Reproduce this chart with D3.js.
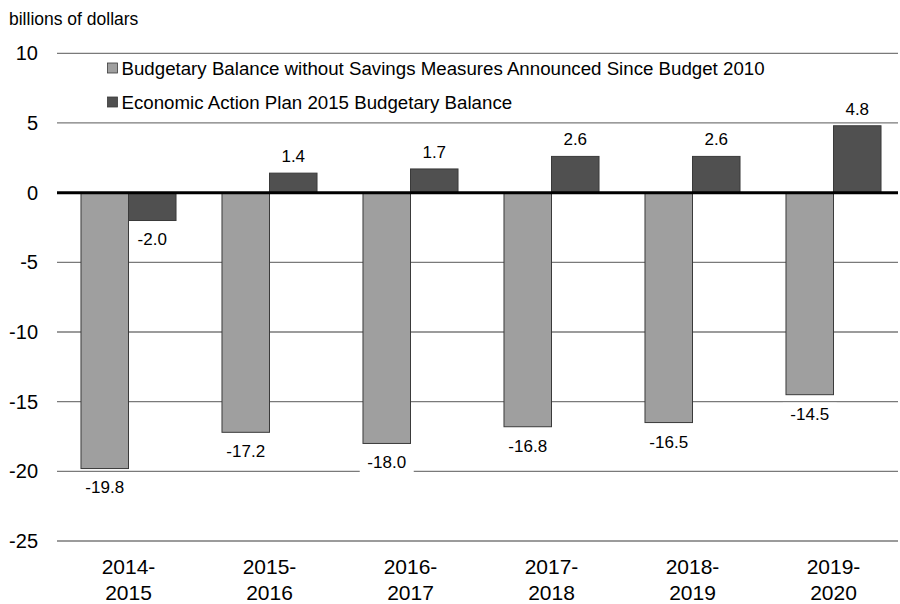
<!DOCTYPE html>
<html>
<head>
<meta charset="utf-8">
<script src="https://cdn.jsdelivr.net/npm/d3@7"></script>
<style>
  html, body { margin: 0; padding: 0; background: #fff; }
  svg { display: block; font-family: "Liberation Sans", Arial, sans-serif; }
</style>
</head>
<body>
<svg id="chart" width="900" height="604"></svg>
<script>
// Fiscal years shown along the x axis (two-line labels)
const years = ["2014-2015", "2015-2016", "2016-2017", "2017-2018", "2018-2019", "2019-2020"];
// Series names as they appear in the legend
const seriesNames = [
  "Budgetary Balance without Savings Measures Announced Since Budget 2010",
  "Economic Action Plan 2015 Budgetary Balance"
];
// Budgetary balance in billions of dollars
const withoutSavings = [-19.8, -17.2, -18.0, -16.8, -16.5, -14.5];
const eap2015 = [-2.0, 1.4, 1.7, 2.6, 2.6, 4.8];
// Y-axis ticks
const yTicks = [10, 5, 0, -5, -10, -15, -20, -25];

const seriesValues = [withoutSavings, eap2015];
const fills = ["#9f9f9f", "#505050"];

const svg = d3.select("#chart");

const y = d3.scaleLinear().domain([-25, 10]).range([541, 53.3]);
const x0 = d3.scaleBand().domain(years).range([58, 904]).paddingInner(0.326).paddingOuter(0.163);
const x1 = d3.scaleBand().domain([0, 1]).range([0, x0.bandwidth()]);

const gridLeft = 57, gridRight = 898;

// Unit label
svg.append("text")
  .attr("x", 9).attr("y", 25)
  .attr("font-size", 17.5)
  .attr("fill", "#000")
  .text("billions of dollars");

// Horizontal gridlines
svg.append("g").selectAll("line")
  .data(yTicks.filter(d => d !== 0))
  .join("line")
  .attr("x1", gridLeft).attr("x2", gridRight)
  .attr("y1", d => y(d)).attr("y2", d => y(d))
  .attr("stroke", "#7a7a7a").attr("stroke-width", 1.3);

// Y tick labels
svg.append("g").selectAll("text")
  .data(yTicks)
  .join("text")
  .attr("x", 38).attr("y", d => y(d))
  .attr("dy", "0.35em")
  .attr("text-anchor", "end")
  .attr("font-size", 20)
  .text(d => d);

// Value label positions
const labelData = [];
years.forEach((yr, i) => {
  seriesValues.forEach((vals, s) => {
    const v = vals[i];
    labelData.push({
      v,
      cx: x0(yr) + x1(s) + x1.bandwidth() / 2,
      cy: v < 0 ? y(v) + 19 : y(v) - 17
    });
  });
});

// White backing behind labels so gridlines break around them
svg.append("g").selectAll("rect")
  .data(labelData)
  .join("rect")
  .attr("x", d => d.cx - 27).attr("y", d => d.cy - 11)
  .attr("width", 54).attr("height", 22)
  .attr("fill", "#fff");

// Bars
const groups = svg.append("g").selectAll("g")
  .data(years)
  .join("g")
  .attr("transform", d => `translate(${x0(d)},0)`);

groups.selectAll("rect")
  .data((d, i) => seriesValues.map((vals, s) => ({ s, v: vals[i] })))
  .join("rect")
  .attr("x", d => x1(d.s))
  .attr("width", x1.bandwidth())
  .attr("y", d => y(Math.max(0, d.v)))
  .attr("height", d => Math.abs(y(d.v) - y(0)))
  .attr("fill", d => fills[d.s])
  .attr("stroke", "#3a3a3a").attr("stroke-width", 1);

// Zero line
svg.append("line")
  .attr("x1", gridLeft).attr("x2", gridRight)
  .attr("y1", y(0)).attr("y2", y(0))
  .attr("stroke", "#000").attr("stroke-width", 3);

// Value labels
svg.append("g").selectAll("text")
  .data(labelData)
  .join("text")
  .attr("x", d => d.cx).attr("y", d => d.cy)
  .attr("dy", "0.35em")
  .attr("text-anchor", "middle")
  .attr("font-size", 17)
  .text(d => d.v.toFixed(1));

// Category labels on two lines
const cat = svg.append("g").selectAll("text")
  .data(years)
  .join("text")
  .attr("x", d => x0(d) + x0.bandwidth() / 2)
  .attr("y", 567)
  .attr("text-anchor", "middle")
  .attr("font-size", 21);
cat.append("tspan")
  .attr("x", d => x0(d) + x0.bandwidth() / 2)
  .attr("dy", "0.35em")
  .text(d => d.split("-")[0] + "-");
cat.append("tspan")
  .attr("x", d => x0(d) + x0.bandwidth() / 2)
  .attr("dy", 26)
  .text(d => d.split("-")[1]);

// Legend
const legend = svg.append("g");
seriesNames.forEach((name, s) => {
  const ly = 68 + s * 34;
  legend.append("rect")
    .attr("x", 107.5).attr("y", ly - 5)
    .attr("width", 10).attr("height", 10)
    .attr("fill", fills[s])
    .attr("stroke", "#3a3a3a").attr("stroke-width", 0.8);
  legend.append("text")
    .attr("x", 121.5).attr("y", ly)
    .attr("dy", "0.35em")
    .attr("font-size", 18.7)
    .text(name);
});
</script>
</body>
</html>
